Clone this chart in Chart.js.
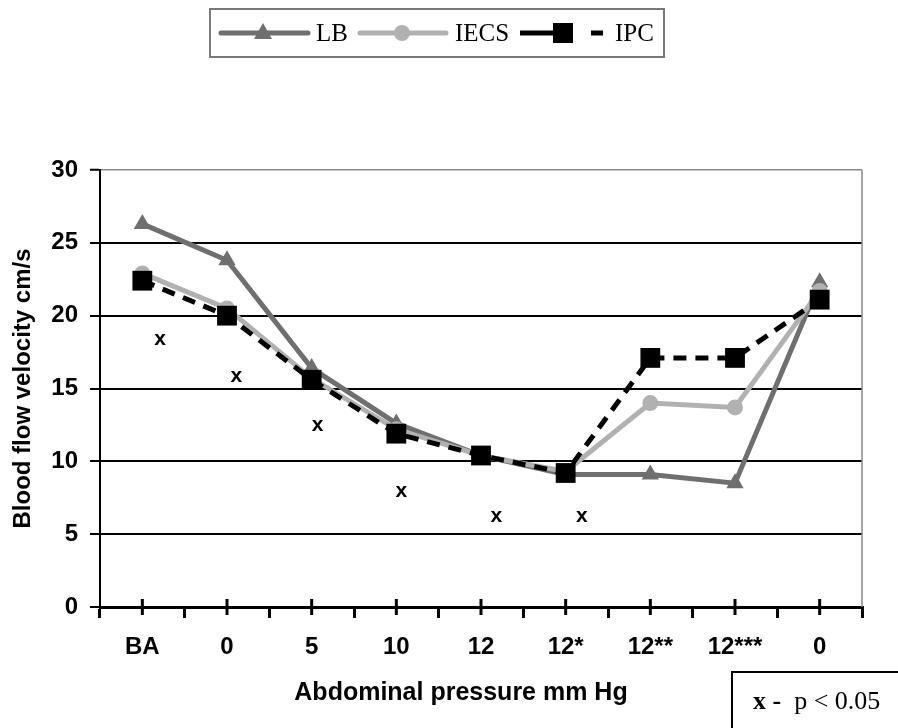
<!DOCTYPE html>
<html>
<head>
<meta charset="utf-8">
<script src="https://cdn.jsdelivr.net/npm/chart.js@4/dist/chart.umd.min.js"></script>
<style>
  html, body { margin: 0; padding: 0; background: #fff; }
</style>
</head>
<body>
<canvas id="chart" width="898" height="728"></canvas>
<script>
// x axis categories (abdominal pressure, mm Hg)
const categories = ['BA', '0', '5', '10', '12', '12*', '12**', '12***', '0'];
// blood flow velocity, cm/s
const lbValues   = [26.3, 23.8, 16.4, 12.6, 10.4, 9.1, 9.1, 8.5, 22.3];
const iecsValues = [22.9, 20.5, 15.7, 12.2, 10.4, 9.3, 14.0, 13.7, 21.7];
const ipcValues  = [22.4, 20.0, 15.6, 11.9, 10.4, 9.2, 17.1, 17.1, 21.1];
// "x" marks for p < 0.05 (position along the category axis, value)
const sigPositions = [0.21, 1.11, 2.07, 3.06, 4.18, 5.19];
const sigValues    = [18.3, 15.8, 12.4, 7.9, 6.2, 6.2];
const yTicks = [0, 5, 10, 15, 20, 25, 30];

const SANS = "'Liberation Sans', Arial, sans-serif";
const SERIF = "'Liberation Serif', 'Times New Roman', serif";

const LB_COLOR = '#6f6f6f';
const IECS_COLOR = '#b1b1b1';
const IPC_COLOR = '#000000';

// ticks at the category centres cross the axis line, plus the grey right border
const axisMarks = {
  id: 'axisMarks',
  afterDraw(chart) {
    const { ctx, chartArea: a, scales: { x } } = chart;
    ctx.save();
    ctx.strokeStyle = '#8a8a8a';
    ctx.lineWidth = 1.5;
    ctx.beginPath();
    ctx.moveTo(a.right, a.top);
    ctx.lineTo(a.right, a.bottom);
    ctx.stroke();
    ctx.strokeStyle = '#000';
    ctx.lineWidth = 3;
    categories.forEach((c, i) => {
      const px = x.getPixelForTick(i);
      ctx.beginPath();
      ctx.moveTo(px, a.bottom - 8);
      ctx.lineTo(px, a.bottom + 8);
      ctx.stroke();
    });
    ctx.restore();
  }
};

// the significance marks are drawn as text at the points of the hidden dataset
const sigMarks = {
  id: 'sigMarks',
  afterDatasetsDraw(chart) {
    const ctx = chart.ctx;
    const meta = chart.getDatasetMeta(3);
    ctx.save();
    ctx.fillStyle = '#000';
    ctx.font = 'bold 21px ' + SANS;
    ctx.textAlign = 'center';
    ctx.textBaseline = 'alphabetic';
    meta.data.forEach(pt => ctx.fillText('x', pt.x, pt.y + 5));
    ctx.restore();
  }
};

function marker(ctx, style, x, y, color) {
  ctx.fillStyle = color;
  ctx.beginPath();
  if (style === 'triangle') {
    ctx.moveTo(x, y - 10);
    ctx.lineTo(x + 9, y + 6);
    ctx.lineTo(x - 9, y + 6);
    ctx.closePath();
  } else if (style === 'circle') {
    ctx.arc(x, y, 8, 0, Math.PI * 2);
  } else {
    ctx.rect(x - 10, y - 10, 20, 20);
  }
  ctx.fill();
}

// boxed legend at the top, line + marker samples
const boxLegend = {
  id: 'boxLegend',
  afterDraw(chart) {
    const ctx = chart.ctx;
    const cy = 33;
    ctx.save();
    ctx.strokeStyle = '#7a7a7a';
    ctx.lineWidth = 2;
    ctx.strokeRect(210, 9, 454, 48);

    ctx.lineWidth = 5;
    ctx.lineCap = 'round';
    ctx.strokeStyle = LB_COLOR;
    ctx.beginPath(); ctx.moveTo(221, cy); ctx.lineTo(308, cy); ctx.stroke();
    marker(ctx, 'triangle', 263, cy, LB_COLOR);

    ctx.strokeStyle = IECS_COLOR;
    ctx.beginPath(); ctx.moveTo(360, cy); ctx.lineTo(446, cy); ctx.stroke();
    marker(ctx, 'circle', 402, cy, IECS_COLOR);

    ctx.lineCap = 'butt';
    ctx.strokeStyle = IPC_COLOR;
    ctx.setLineDash([33, 38, 12, 100]);
    ctx.beginPath(); ctx.moveTo(520, cy); ctx.lineTo(603, cy); ctx.stroke();
    ctx.setLineDash([]);
    marker(ctx, 'rect', 563, cy, IPC_COLOR);

    ctx.fillStyle = '#000';
    ctx.font = '25px ' + SERIF;
    ctx.textBaseline = 'middle';
    ctx.fillText('LB', 316, cy + 1);
    ctx.fillText('IECS', 455, cy + 1);
    ctx.fillText('IPC', 615, cy + 1);
    ctx.restore();
  }
};

// x axis title and the boxed note in the corner
const notes = {
  id: 'notes',
  afterDraw(chart) {
    const { ctx, chartArea: a } = chart;
    ctx.save();
    ctx.fillStyle = '#000';
    ctx.font = 'bold 25px ' + SANS;
    ctx.textAlign = 'center';
    ctx.textBaseline = 'middle';
    ctx.fillText('Abdominal pressure mm Hg', (a.left + a.right) / 2 - 20, 693);

    ctx.strokeStyle = '#000';
    ctx.lineWidth = 2;
    ctx.strokeRect(732, 672, 200, 100);
    ctx.textAlign = 'left';
    ctx.font = 'bold 26px ' + SERIF;
    ctx.fillText('x -', 753, 702);
    const w = ctx.measureText('x -  ').width;
    ctx.font = '26px ' + SERIF;
    ctx.fillText('p < 0.05', 753 + w, 702);
    ctx.restore();
  }
};

new Chart(document.getElementById('chart'), {
  type: 'line',
  data: {
    labels: categories,
    datasets: [
      {
        label: 'LB', data: lbValues, order: 3,
        borderColor: LB_COLOR, backgroundColor: LB_COLOR, borderWidth: 5,
        pointStyle: 'triangle', pointRadius: 10, pointBorderWidth: 0
      },
      {
        label: 'IECS', data: iecsValues, order: 2,
        borderColor: IECS_COLOR, backgroundColor: IECS_COLOR, borderWidth: 5,
        pointStyle: 'circle', pointRadius: 8, pointBorderWidth: 0
      },
      {
        label: 'IPC', data: ipcValues, order: 1,
        borderColor: IPC_COLOR, backgroundColor: IPC_COLOR, borderWidth: 5, borderDash: [13, 9],
        pointStyle: 'rect', pointRadius: 14, pointBorderWidth: 0
      },
      {
        label: 'p < 0.05', order: 0, xAxisID: 'xs',
        data: sigPositions.map((p, i) => ({ x: p, y: sigValues[i] })),
        showLine: false, pointRadius: 0
      }
    ]
  },
  options: {
    responsive: false,
    animation: false,
    layout: { padding: { top: 170, right: 36, left: 0, bottom: 0 } },
    plugins: {
      legend: { display: false },
      tooltip: { enabled: false }
    },
    scales: {
      x: {
        type: 'category',
        offset: true,
        grid: {
          display: true, offset: true, drawOnChartArea: false,
          drawTicks: true, tickLength: 11, color: '#000', lineWidth: 3
        },
        border: { display: true, color: '#000', width: 3 },
        ticks: {
          color: '#000', padding: 15, maxRotation: 0, autoSkip: false,
          font: { family: SANS, size: 24, weight: 'bold' }
        },
        afterFit(scale) { scale.height = 121; }
      },
      xs: { type: 'linear', display: false, min: -0.5, max: 8.5 },
      y: {
        min: 0,
        max: 30,
        afterBuildTicks(scale) { scale.ticks = yTicks.map(v => ({ value: v })); },
        grid: {
          color: c => (c.tick && c.tick.value === 30 ? '#8a8a8a' : '#000'),
          lineWidth: c => (c.tick && c.tick.value === 30 ? 1.5 : 2),
          tickColor: '#000', tickWidth: 2, tickLength: 10
        },
        border: { color: '#000', width: 2 },
        ticks: {
          color: '#000', padding: 12,
          font: { family: SANS, size: 24, weight: 'bold' }
        },
        title: {
          display: true, text: 'Blood flow velocity cm/s', color: '#000',
          font: { family: SANS, size: 24, weight: 'bold' },
          padding: { top: 9, bottom: 0 }
        },
        afterFit(scale) { scale.width = 100; }
      }
    }
  },
  plugins: [axisMarks, sigMarks, boxLegend, notes]
});
</script>
</body>
</html>
